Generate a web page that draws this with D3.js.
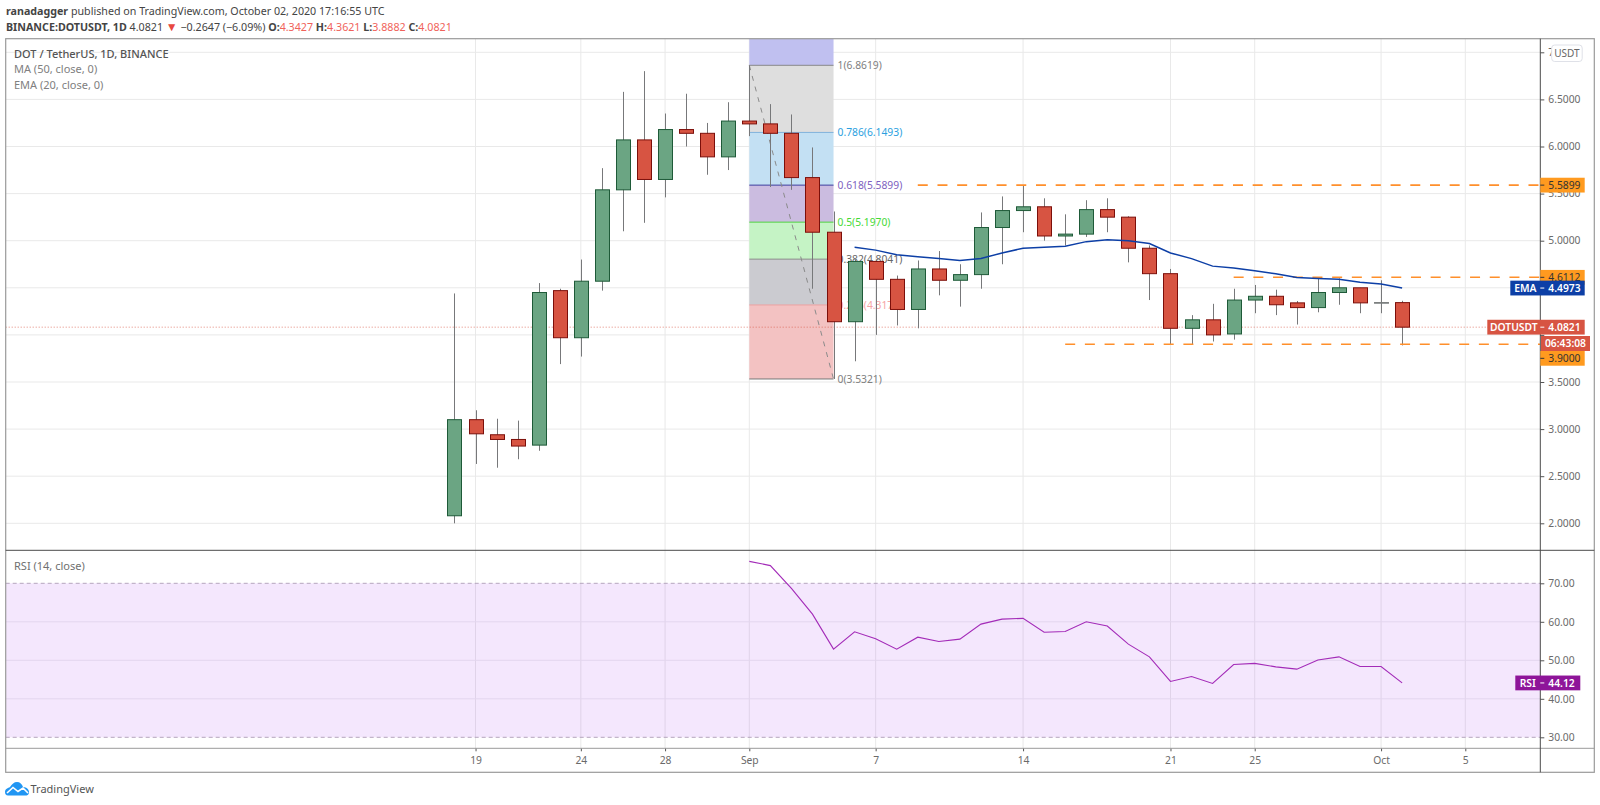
<!DOCTYPE html>
<html>
<head>
<meta charset="utf-8">
<script src="https://cdn.jsdelivr.net/npm/d3@7"></script>
<style>
  html, body { margin: 0; padding: 0; background: #fff; }
  svg { display: block; }
  text { font-family: "Noto Sans", sans-serif; }
  .axis path { display: none; }
  .axis line { stroke: #555; }
  .axis text { fill: #6a6a6a; font-size: 10.3px; }
</style>
</head>
<body>
<svg width="1600" height="805"></svg>
<script>
// one entry per day, first one is 2020-08-18
const firstDay = "2020-08-18";
const opens = [2.08, 3.10, 2.94, 2.89, 2.83, 4.47, 3.97, 4.57, 5.54, 6.07, 5.65, 6.18, 6.14, 5.89, 6.27, 6.24,
  6.14, 5.67, 5.09, 4.14, 4.78, 4.59, 4.27, 4.70, 4.58, 4.64, 5.14, 5.32, 5.36, 5.05, 5.07, 5.33,
  5.25, 4.92, 4.65, 4.07, 4.16, 4.01, 4.37, 4.41, 4.34, 4.29, 4.45, 4.50, 4.34, 4.3427];
const highs = [4.44, 3.20, 3.11, 3.09, 4.55, 4.49, 4.80, 5.77, 6.58, 6.80, 6.35, 6.56, 6.25, 6.47, 6.8619, 6.45,
  6.34, 5.99, 5.31, 4.80, 4.80, 4.63, 4.79, 4.89, 4.75, 5.30, 5.47, 5.5899, 5.45, 5.28, 5.43, 5.45,
  5.26, 4.95, 4.70, 4.21, 4.33, 4.49, 4.53, 4.48, 4.36, 4.60, 4.60, 4.50, 4.58, 4.3621];
const lows = [2.00, 2.63, 2.59, 2.68, 2.77, 3.69, 3.77, 4.47, 5.10, 5.19, 5.46, 6.00, 5.70, 5.75, 6.11, 5.57,
  5.54, 4.49, 3.5321, 3.72, 4.00, 4.10, 4.07, 4.42, 4.30, 4.49, 4.75, 5.09, 5.00, 4.95, 5.04, 5.09,
  4.77, 4.37, 3.90, 3.90, 3.93, 3.95, 4.23, 4.21, 4.11, 4.24, 4.32, 4.23, 4.23, 3.8882];
const closes = [3.10, 2.95, 2.89, 2.82, 4.45, 3.97, 4.57, 5.54, 6.07, 5.65, 6.18, 6.14, 5.89, 6.27, 6.24, 6.14,
  5.67, 5.09, 4.14, 4.78, 4.59, 4.27, 4.70, 4.58, 4.64, 5.14, 5.32, 5.36, 5.05, 5.07, 5.33, 5.25,
  4.92, 4.65, 4.07, 4.16, 4.00, 4.37, 4.41, 4.32, 4.29, 4.45, 4.50, 4.34, 4.343, 4.0821];

// EMA starts at Sep 6, RSI at Sep 1
const emaStart = "2020-09-06";
const emaValues = [4.93, 4.90, 4.85, 4.83, 4.81, 4.79, 4.81, 4.87, 4.92, 4.93, 4.94, 4.99, 5.01, 5.00, 4.97, 4.87,
  4.81, 4.73, 4.71, 4.68, 4.65, 4.61, 4.60, 4.59, 4.56, 4.54, 4.4973];
const rsiStart = "2020-09-01";
const rsiValues = [75.7, 74.6, 68.7, 62.0, 52.9, 57.4, 55.6, 52.9, 56.0, 54.9, 55.5, 59.4, 60.7, 60.9, 57.3, 57.5,
  60.0, 58.9, 54.2, 50.9, 44.5, 45.8, 44.0, 48.9, 49.2, 48.3, 47.7, 50.1, 50.9, 48.4, 48.4, 44.12];

const priceTicks = [2, 2.5, 3, 3.5, 4, 4.5, 5, 5.5, 6, 6.5, 7];
// these two sit fully behind the price tags
const hiddenPriceLabels = [4, 4.5];
const rsiTicks = [30, 40, 50, 60, 70];
const timeTicks = ["2020-08-19", "2020-08-24", "2020-08-28", "2020-09-01", "2020-09-07", "2020-09-14",
  "2020-09-21", "2020-09-25", "2020-10-01", "2020-10-05"];
const timeLabels = ["19", "24", "28", "Sep", "7", "14", "21", "25", "Oct", "5"];

const fibLow = 3.5321, fibHigh = 6.8619;
const fibLevels = [0, 0.236, 0.382, 0.5, 0.618, 0.786, 1, 1.272];
const fibFills = ["#f3c2c2", "#cbcbd0", "#c5f3c5", "#cbbce0", "#c3e0f3", "#dedede", "#c0c0f0"];
const fibLines = ["#777", "#eba0a0", "#8a8a8a", "#4fd43f", "#3b3b9c", "#7fb2dc", "#888"];
const fibText = ["#808080", "#f5a5a5", "#666", "#45d935", "#7e5fc0", "#2b9fe0", "#808080"];

const supportLevels = [
  { price: 5.5899, from: "2020-09-09" },
  { price: 4.6112, from: "2020-09-24" },
  { price: 3.9, from: "2020-09-16" },
];

const parse = d3.utcParse("%Y-%m-%d");
const svg = d3.select("svg");

const plotLeft = 5.7, plotRight = 1540.3, outerRight = 1594.3;
const plotTop = 38.7, paneSplit = 550.3, paneBottom = 748.3, outerBottom = 772.3;

const x = d3.scaleUtc().domain([parse("2020-09-01"), parse("2020-10-05")]).range([749.3, 1465.3]);
const y = d3.scaleLinear().domain([2, 7]).range([523.3, 52.3]);
const yRsi = d3.scaleLinear().domain([30, 70]).range([737.3, 583.3]);

const days = opens.map((_, i) => d3.utcDay.offset(parse(firstDay), i));
const candles = days.map((date, i) => ({ date, o: opens[i], h: highs[i], l: lows[i], c: closes[i] }));
const tickDates = timeTicks.map(parse);

svg.append("defs").append("clipPath").attr("id", "price-clip")
  .append("rect").attr("x", plotLeft).attr("y", plotTop).attr("width", plotRight - plotLeft).attr("height", paneSplit - plotTop);

// grid
const grid = svg.append("g").attr("stroke", "#e9e9e9");
grid.selectAll(".v").data(tickDates).join("line").attr("class", "v")
  .attr("x1", (d) => x(d)).attr("x2", (d) => x(d)).attr("y1", plotTop).attr("y2", paneBottom);
grid.selectAll(".h").data(priceTicks).join("line").attr("class", "h")
  .attr("x1", plotLeft).attr("x2", plotRight).attr("y1", (d) => y(d)).attr("y2", (d) => y(d));

// rsi band, the grid shows through it
const rsiPane = svg.append("g");
rsiPane.append("rect").attr("x", plotLeft).attr("width", plotRight - plotLeft)
  .attr("y", yRsi(70)).attr("height", yRsi(30) - yRsi(70)).attr("fill", "#9c27f0").attr("fill-opacity", 0.11);
rsiPane.selectAll(".rg").data(rsiTicks.slice(1, 4)).join("line").attr("class", "rg")
  .attr("x1", plotLeft).attr("x2", plotRight).attr("y1", (d) => yRsi(d)).attr("y2", (d) => yRsi(d))
  .attr("stroke", "#e3d6ee");
rsiPane.selectAll(".rb").data([30, 70]).join("line").attr("class", "rb")
  .attr("x1", plotLeft).attr("x2", plotRight).attr("y1", (d) => yRsi(d)).attr("y2", (d) => yRsi(d))
  .attr("stroke", "#b5a5bd").attr("stroke-dasharray", "4,3");

// fib retracement
const fibPrice = (l) => fibLow + l * (fibHigh - fibLow);
const fibX0 = x(parse("2020-09-01")), fibX1 = x(parse("2020-09-05"));
const price = svg.append("g").attr("clip-path", "url(#price-clip)");
const fib = price.append("g");
fib.selectAll("rect").data(fibFills).join("rect")
  .attr("x", fibX0).attr("width", fibX1 - fibX0)
  .attr("y", (d, i) => y(fibPrice(fibLevels[i + 1])))
  .attr("height", (d, i) => y(fibPrice(fibLevels[i])) - y(fibPrice(fibLevels[i + 1])))
  .attr("fill", (d) => d);
fib.selectAll("line").data(fibLines).join("line")
  .attr("x1", fibX0).attr("x2", fibX1)
  .attr("y1", (d, i) => y(fibPrice(fibLevels[i]))).attr("y2", (d, i) => y(fibPrice(fibLevels[i])))
  .attr("stroke", (d) => d);
fib.selectAll("text").data(fibText).join("text")
  .attr("x", fibX1 + 4).attr("y", (d, i) => y(fibPrice(fibLevels[i])) + 3.6)
  .attr("fill", (d) => d).attr("font-size", 10.3)
  .text((d, i) => `${fibLevels[i]}(${fibPrice(fibLevels[i]).toFixed(4)})`);
fib.append("line")
  .attr("x1", fibX0).attr("y1", y(fibHigh)).attr("x2", fibX1).attr("y2", y(fibLow))
  .attr("stroke", "#8a8a8a").attr("stroke-dasharray", "5,6");

// last price line
price.append("line").attr("x1", plotLeft).attr("x2", plotRight)
  .attr("y1", y(4.0821)).attr("y2", y(4.0821))
  .attr("stroke", "#d75442").attr("stroke-opacity", 0.7).attr("stroke-dasharray", "1,2");

// candles
const candle = price.selectAll(".candle").data(candles).join("g").attr("class", "candle");
candle.append("line")
  .attr("x1", (d) => Math.round(x(d.date)) + 0.5).attr("x2", (d) => Math.round(x(d.date)) + 0.5)
  .attr("y1", (d) => y(d.h)).attr("y2", (d) => y(d.l))
  .attr("stroke", "#77787a");
candle.append("rect")
  .attr("x", (d) => Math.round(x(d.date)) - 6.5).attr("width", 14)
  .attr("y", (d) => y(Math.max(d.o, d.c)))
  .attr("height", (d) => Math.max(Math.abs(y(d.o) - y(d.c)), 0.6))
  .attr("fill", (d) => (d.c >= d.o ? "#6ba583" : "#d75442"))
  .attr("stroke", (d) => (Math.abs(d.c - d.o) < 0.01 ? "#77787a" : d.c >= d.o ? "#1e5a38" : "#7c0f0a"));

// horizontal levels
price.selectAll(".level").data(supportLevels).join("line").attr("class", "level")
  .attr("x1", (d) => x(parse(d.from))).attr("x2", plotRight)
  .attr("y1", (d) => y(d.price)).attr("y2", (d) => y(d.price))
  .attr("stroke", "#ff8f2b").attr("stroke-width", 1.6).attr("stroke-dasharray", "10,9.7");

// ema
const emaDays = emaValues.map((_, i) => d3.utcDay.offset(parse(emaStart), i));
price.append("path").datum(emaValues)
  .attr("fill", "none").attr("stroke", "#0d3fa6").attr("stroke-width", 1.5)
  .attr("d", d3.line().x((d, i) => x(emaDays[i])).y((d) => y(d)));

// rsi line
const rsiDays = rsiValues.map((_, i) => d3.utcDay.offset(parse(rsiStart), i));
svg.append("path").datum(rsiValues)
  .attr("fill", "none").attr("stroke", "#a32bb8").attr("stroke-width", 1.1)
  .attr("d", d3.line().x((d, i) => x(rsiDays[i])).y((d) => yRsi(d)));

// axes
const priceFormat = d3.format(".4f");
svg.append("g").attr("class", "axis").attr("transform", `translate(${plotRight},0)`)
  .call(d3.axisRight(y).tickValues(priceTicks)
    .tickFormat((d) => (hiddenPriceLabels.includes(d) ? "" : priceFormat(d))).tickSize(4).tickPadding(4));
svg.append("g").attr("class", "axis").attr("transform", `translate(${plotRight},0)`)
  .call(d3.axisRight(yRsi).tickValues(rsiTicks).tickFormat(d3.format(".2f")).tickSize(4).tickPadding(4));
svg.append("g").attr("class", "axis").attr("transform", `translate(0,${paneBottom})`)
  .call(d3.axisBottom(x).tickValues(tickDates).tickFormat((d, i) => timeLabels[i]).tickSize(3).tickPadding(5));

// frame
const frame = svg.append("g").attr("fill", "none");
frame.append("rect").attr("x", plotLeft).attr("y", plotTop).attr("width", outerRight - plotLeft).attr("height", outerBottom - plotTop)
  .attr("stroke", "#9a9a9a").attr("stroke-width", 1.2);
frame.append("line").attr("x1", plotLeft).attr("x2", outerRight).attr("y1", paneSplit).attr("y2", paneSplit).attr("stroke", "#4a4a4a");
frame.append("line").attr("x1", plotLeft).attr("x2", outerRight).attr("y1", paneBottom).attr("y2", paneBottom).attr("stroke", "#9a9a9a");
frame.append("line").attr("x1", plotRight).attr("x2", plotRight).attr("y1", plotTop).attr("y2", outerBottom).attr("stroke", "#4a4a4a");

// price tags on the axis
const tags = [
  { value: "5.5899", y: y(5.5899), fill: "#ff9a1f", color: "#333" },
  { value: "4.6112", y: y(4.6112), fill: "#ff9a1f", color: "#333" },
  { value: "3.9000", y: y(3.9) + 14, fill: "#ff9a1f", color: "#333" },
  { value: "4.4973", y: y(4.4973), fill: "#0d3fa6", color: "#fff", name: "EMA", nameW: 30 },
  { value: "4.0821", y: y(4.0821), fill: "#d75442", color: "#fff", name: "DOTUSDT", nameW: 53 },
  { value: "44.12", y: yRsi(44.12), fill: "#8e1599", color: "#fff", name: "RSI", nameW: 25, w: 40 },
];
const tag = svg.append("g").selectAll("g").data(tags).join("g")
  .attr("transform", (d) => `translate(${plotRight},${d.y})`);
tag.append("rect")
  .attr("x", (d) => -(d.nameW || 0)).attr("y", -7.4)
  .attr("width", (d) => (d.nameW || 0) + (d.w || 44.4)).attr("height", 14.8)
  .attr("fill", (d) => d.fill);
tag.append("line").attr("x1", 0).attr("x2", 4).attr("stroke", (d) => d.color);
tag.append("text").attr("x", 8).attr("y", 3.6).attr("font-size", 10.3)
  .attr("font-weight", (d) => (d.name ? 600 : 400))
  .attr("fill", (d) => d.color).text((d) => d.value);
tag.filter((d) => d.name).append("text").attr("x", (d) => -d.nameW / 2).attr("y", 3.6)
  .attr("text-anchor", "middle").attr("font-size", 10.3).attr("font-weight", 600)
  .attr("fill", "#fff").text((d) => d.name);

// countdown
svg.append("rect").attr("x", 1541).attr("y", 336).attr("width", 49).attr("height", 15).attr("fill", "#d75442");
svg.append("text").attr("x", 1565.5).attr("y", 347).attr("text-anchor", "middle")
  .attr("font-size", 10.3).attr("font-weight", 600).attr("fill", "#fff").text("06:43:08");

// currency badge
svg.append("rect").attr("x", 1551.7).attr("y", 45).attr("width", 30.5).attr("height", 16.5).attr("rx", 3)
  .attr("fill", "#fff").attr("stroke", "#dfe1e8");
svg.append("text").attr("x", 1567).attr("y", 56.8).attr("text-anchor", "middle")
  .attr("font-size", 10).attr("fill", "#666").text("USDT");

// header
const head1 = svg.append("text").attr("x", 6).attr("y", 15).attr("font-size", 10.7).attr("fill", "#444");
head1.append("tspan").attr("font-weight", 700).text("ranadagger");
head1.append("tspan").text(" published on TradingView.com, October 02, 2020 17:16:55 UTC");

const head2 = svg.append("text").attr("x", 6).attr("y", 30.5).attr("font-size", 10.7).attr("fill", "#444");
head2.append("tspan").attr("font-weight", 700).text("BINANCE:DOTUSDT, 1D");
head2.append("tspan").text(" 4.0821 ");
head2.append("tspan").attr("fill", "#e8483f").attr("font-size", 12).text("▼");
head2.append("tspan").text(" −0.2647 (−6.09%) ");
[["O:", "4.3427"], ["H:", "4.3621"], ["L:", "3.8882"], ["C:", "4.0821"]].forEach(([k, v]) => {
  head2.append("tspan").attr("font-weight", 700).text(k);
  head2.append("tspan").attr("fill", "#f0625a").text(v + " ");
});

// legends
svg.append("text").attr("x", 14).attr("y", 58).attr("font-size", 11).attr("font-weight", 500).attr("fill", "#555")
  .text("DOT / TetherUS, 1D, BINANCE");
svg.append("text").attr("x", 14).attr("y", 73).attr("font-size", 11).attr("fill", "#808080").text("MA (50, close, 0)");
svg.append("text").attr("x", 14).attr("y", 88.5).attr("font-size", 11).attr("fill", "#808080").text("EMA (20, close, 0)");
svg.append("text").attr("x", 14).attr("y", 570).attr("font-size", 11).attr("fill", "#707070").text("RSI (14, close)");

// logo
const logo = svg.append("g").attr("transform", "translate(5,781)");
logo.append("path").attr("fill", "#2196f3")
  .attr("d", "M0,11 C0,8 3,7 5,6 C7,3 9,1 12,1 C15,1 17,3 18,6 C22,6 24,9 24,11 C24,14 22,14.5 20,14.5 L3,14.5 C1,14.5 0,13 0,11 Z");
logo.append("path").attr("fill", "none").attr("stroke", "#fff").attr("stroke-width", 1.6)
  .attr("d", "M2,12 L8,6.5 L13,10.5 L18,7 L23,12");
svg.append("text").attr("x", 30.5).attr("y", 792.5).attr("font-size", 11).attr("fill", "#555").text("TradingView");
</script>
</body>
</html>
